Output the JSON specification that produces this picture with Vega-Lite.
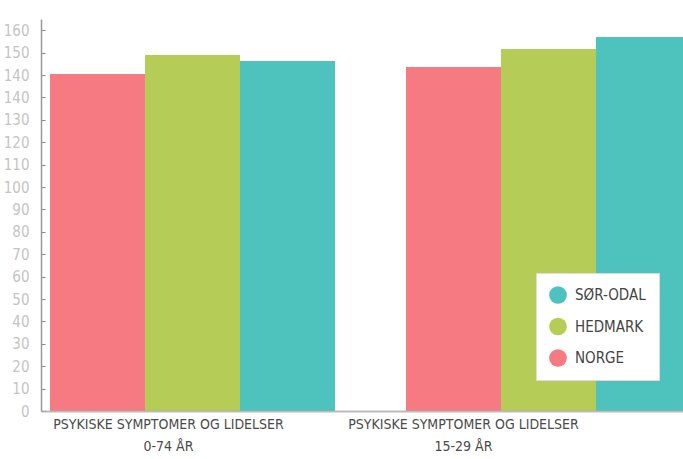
{
  "$schema": "https://vega.github.io/schema/vega-lite/v6.json",
  "autosize": "none",
  "width": 659,
  "height": 392,
  "padding": {"left": 41, "top": 19, "right": -17, "bottom": 48},
  "background": "white",
  "config": {"view": {"stroke": null}, "font": "DejaVu Sans Condensed, sans-serif"},
  "data": {"values": [
    {"gruppe": "PSYKISKE SYMPTOMER OG LIDELSER|0-74 ÅR", "område": "NORGE", "verdi": 150.4},
    {"gruppe": "PSYKISKE SYMPTOMER OG LIDELSER|0-74 ÅR", "område": "HEDMARK", "verdi": 158.9},
    {"gruppe": "PSYKISKE SYMPTOMER OG LIDELSER|0-74 ÅR", "område": "SØR-ODAL", "verdi": 156.3},
    {"gruppe": "PSYKISKE SYMPTOMER OG LIDELSER|15-29 ÅR", "område": "NORGE", "verdi": 153.6},
    {"gruppe": "PSYKISKE SYMPTOMER OG LIDELSER|15-29 ÅR", "område": "HEDMARK", "verdi": 161.6},
    {"gruppe": "PSYKISKE SYMPTOMER OG LIDELSER|15-29 ÅR", "område": "SØR-ODAL", "verdi": 167.0}
  ]},
  "mark": {"type": "bar"},
  "encoding": {
    "x": {
      "field": "gruppe", "type": "nominal", "title": null,
      "scale": {"paddingInner": 0.1994, "paddingOuter": 0.0253},
      "axis": {
        "labelAngle": 0,
        "labelExpr": "split(datum.label, '|')",
        "labelFontSize": 14,
        "labelColor": "#4a4a4a",
        "labelLineHeight": 22,
        "labelPadding": 6,
        "labelBaseline": "top",
        "labelOffset": {"condition": {"test": "indexof(datum.value, '0-74') >= 0", "value": -24}, "value": -85},
        "ticks": false,
        "domainColor": "#aaaaaa",
        "domainOpacity": 0.8,
        "domainWidth": 2,
        "zindex": 1,
        "labelLimit": 400
      }
    },
    "xOffset": {"field": "område", "type": "nominal", "sort": ["NORGE", "HEDMARK", "SØR-ODAL"], "scale": {"paddingInner": 0, "paddingOuter": 0}},
    "y": {
      "field": "verdi", "type": "quantitative", "title": null,
      "scale": {"domain": [0, 175], "nice": false},
      "axis": {
        "values": [0, 10, 20, 30, 40, 50, 60, 70, 80, 90, 100, 110, 120, 130, 140, 150, 160, 170],
        "labelExpr": "datum.value <= 140 ? datum.value : datum.value - 10",
        "grid": false,
        "labelFontSize": 15,
        "labelColor": "#c4c4c4",
        "tickSize": -4,
        "tickColor": "#888888",
        "labelPadding": 16,
        "domainColor": "#999999",
        "domainWidth": 1.5
      }
    },
    "color": {
      "field": "område", "type": "nominal",
      "scale": {"domain": ["SØR-ODAL", "HEDMARK", "NORGE"], "range": ["#4ec2bc", "#b5cc57", "#f67a82"]},
      "legend": {
        "title": null,
        "orient": "none",
        "legendX": 495,
        "legendY": 254,
        "fillColor": "white",
        "strokeColor": "#dcdcdc",
        "padding": 13,
        "symbolType": "circle",
        "symbolSize": 314,
        "symbolStrokeWidth": 0,
        "symbolOpacity": 1,
        "labelFontSize": 15,
        "labelColor": "#444444",
        "labelOffset": 8,
        "rowPadding": 13.5
      }
    }
  }
}
